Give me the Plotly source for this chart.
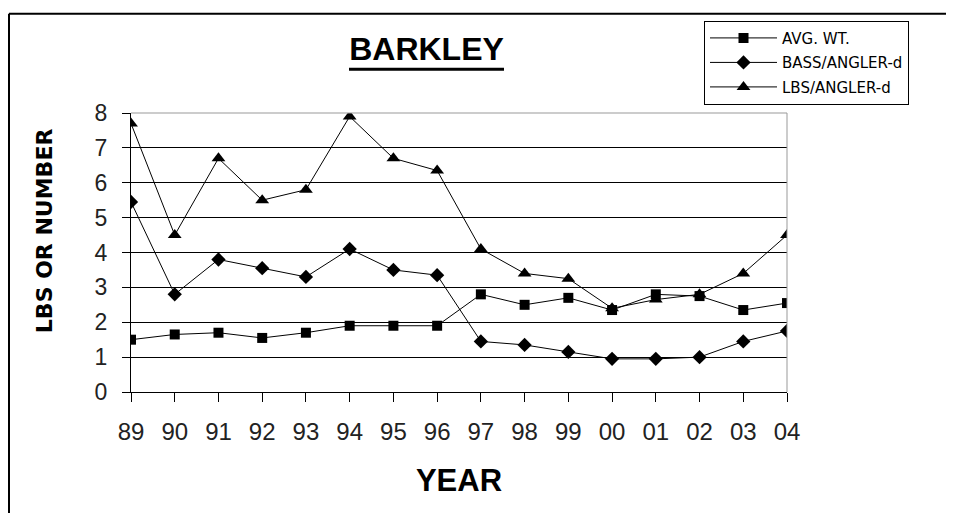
import plotly.graph_objects as go

years = ["89", "90", "91", "92", "93", "94", "95", "96", "97", "98", "99", "00", "01", "02", "03", "04"]
avg_wt = [1.5, 1.65, 1.7, 1.55, 1.7, 1.9, 1.9, 1.9, 2.8, 2.5, 2.7, 2.35, 2.8, 2.75, 2.35, 2.55]
bass_angler = [5.45, 2.8, 3.8, 3.55, 3.3, 4.1, 3.5, 3.35, 1.45, 1.35, 1.15, 0.95, 0.95, 1.0, 1.45, 1.75]
lbs_angler = [7.7, 4.5, 6.7, 5.5, 5.8, 7.9, 6.7, 6.35, 4.1, 3.4, 3.25, 2.4, 2.65, 2.8, 3.4, 4.5]
y_ticks = [0, 1, 2, 3, 4, 5, 6, 7, 8]

FONT = "Liberation Sans, Arial, sans-serif"
WIDE = "DejaVu Sans, Verdana, sans-serif"

# page has an 8px body margin: work in window pixels and convert
OFF = 8
W, H = 954 - OFF, 513 - OFF
PL, PR, PT, PB = 131, 787, 111, 392   # plot area in window pixels
PW, PH = PR - PL, PB - PT


def px(xw):
    return (xw - PL) / PW


def py(yw):
    return (PB - yw) / PH


fig = go.Figure()
series = [
    ("AVG. WT.", avg_wt, "square", 10),
    ("BASS/ANGLER-d", bass_angler, "diamond", 11),
    ("LBS/ANGLER-d", lbs_angler, "triangle-up", 12),
]
for name, vals, sym, sz in series:
    fig.add_trace(go.Scatter(
        x=years, y=vals, name=name, mode="lines+markers",
        line=dict(color="black", width=1),
        marker=dict(symbol=sym, size=sz, color="black"),
        legendgroup=name,
    ))

fig.update_layout(
    width=W, height=H,
    margin=dict(l=PL - OFF, r=W - (PR - OFF), t=PT - OFF, b=H - (PB - OFF)),
    paper_bgcolor="white", plot_bgcolor="white",
    font=dict(family=FONT, color="black"),
    title=dict(text="<b>BARKLEY</b>", x=(426.5 - OFF) / W, xref="container", xanchor="center",
               y=1 - (49 - OFF) / H, yref="container", yanchor="middle",
               font=dict(size=32, family=FONT, color="black")),
    showlegend=True,
    legend=dict(x=px(704), y=py(18), xanchor="left", yanchor="top",
                bordercolor="black", borderwidth=1, bgcolor="white",
                font=dict(size=15, family=WIDE, color="black"),
                traceorder="grouped", tracegroupgap=2, itemwidth=67),
    xaxis=dict(type="category", categoryorder="array", categoryarray=years,
               range=[0, len(years) - 1], showgrid=False, zeroline=False,
               showline=True, linecolor="black", linewidth=1,
               ticks="outside", ticklen=9, tickcolor="black",
               tickfont=dict(size=24, family=FONT, color="#222"), ticklabelstandoff=9,
               title=dict(text="<b>YEAR</b>", font=dict(size=31, family=FONT, color="black"),
                          standoff=25)),
    yaxis=dict(range=[0, 8], tickvals=y_ticks, showgrid=True, gridcolor="black", gridwidth=1,
               zeroline=False, showline=True, linecolor="black", linewidth=1,
               ticks="outside", ticklen=8, tickcolor="black",
               tickfont=dict(size=23, family=FONT, color="#222"), ticklabelstandoff=10),
    shapes=[
        # gray plot-area border (top and right)
        dict(type="line", xref="paper", yref="paper", x0=0, x1=1, y0=1, y1=1,
             line=dict(color="#999999", width=1)),
        dict(type="line", xref="paper", yref="paper", x0=1, x1=1, y0=0, y1=1,
             line=dict(color="#999999", width=1)),
        # title underline
        dict(type="line", xref="paper", yref="paper",
             x0=px(349), x1=px(504), y0=py(67), y1=py(67),
             line=dict(color="black", width=3)),
        # outer frame (top and left)
        dict(type="line", xref="paper", yref="paper",
             x0=px(9), x1=px(960), y0=py(11), y1=py(11),
             line=dict(color="black", width=2)),
        dict(type="line", xref="paper", yref="paper",
             x0=px(9), x1=px(9), y0=py(11), y1=py(520),
             line=dict(color="black", width=2)),
    ],
    annotations=[
        dict(text="<b>LBS OR NUMBER</b>", textangle=-90, xref="paper", yref="paper",
             x=px(44), y=py(230), xanchor="center", yanchor="middle",
             showarrow=False, font=dict(size=22, family=WIDE, color="black")),
    ],
)

fig.write_html("out.html")
